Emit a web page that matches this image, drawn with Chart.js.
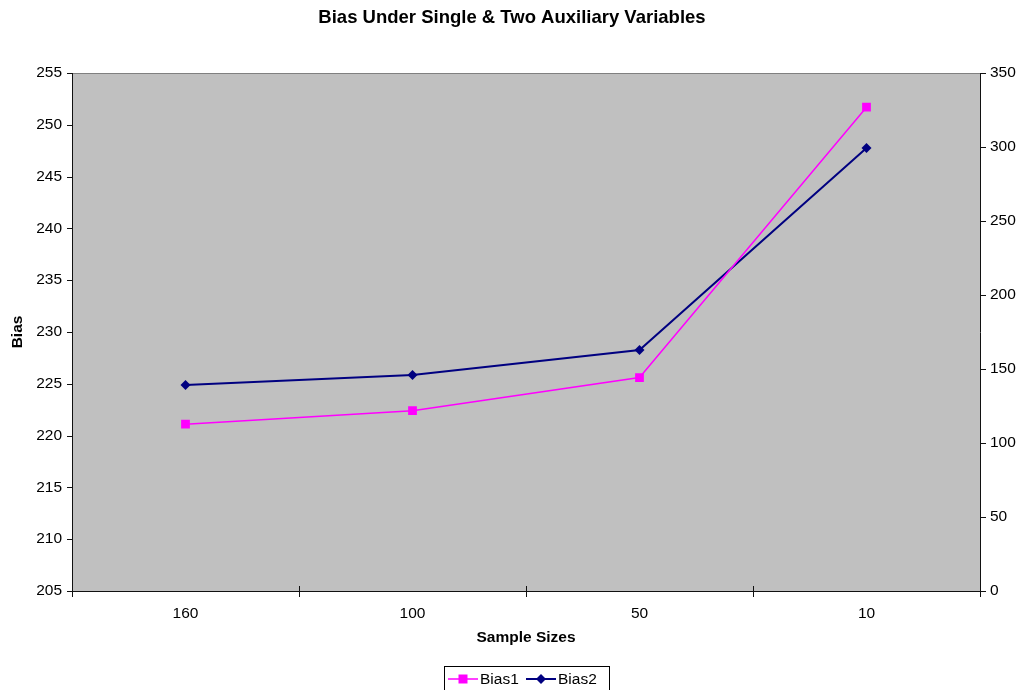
<!DOCTYPE html>
<html lang="en">
<head>
    <meta charset="UTF-8">
    <title>Bias Under Single & Two Auxiliary Variables</title>
    <script src="https://cdn.jsdelivr.net/npm/chart.js@4.4.1/dist/chart.umd.min.js"></script>
    <style>
        body { margin: 0; background: #fff; }
        #wrap { width: 1022px; height: 690px; }
    </style>
</head>
<body>
    <div id="wrap"><canvas id="biasChart" width="1022" height="690"></canvas></div>

    <script>
        const sampleSizes = ['160', '100', '50', '10'];
        const bias1 = [221.1, 222.4, 225.6, 251.7];   // left axis
        const bias2 = [139.2, 146.0, 162.8, 299.3];   // right axis
        const leftTicks = [205, 210, 215, 220, 225, 230, 235, 240, 245, 250, 255];
        const rightTicks = [0, 50, 100, 150, 200, 250, 300, 350];

        const FONT = 'Liberation Sans, Arial, sans-serif';

        // gray plot area, frame, tick marks, titles and boxed legend
        const excelLook = {
            id: 'excelLook',
            beforeDatasetsDraw(chart) {
                const { ctx, chartArea: a } = chart;
                ctx.save();
                ctx.fillStyle = '#c0c0c0';
                ctx.fillRect(a.left, a.top, a.right - a.left, a.bottom - a.top);
                ctx.strokeStyle = '#808080';
                ctx.lineWidth = 1;
                ctx.beginPath();
                ctx.moveTo(a.left, a.top + 0.5);
                ctx.lineTo(a.right, a.top + 0.5);
                ctx.stroke();

                ctx.strokeStyle = '#111';
                ctx.lineWidth = 1;
                ctx.beginPath();
                ctx.moveTo(a.left + 0.5, a.top);
                ctx.lineTo(a.left + 0.5, a.bottom + 1);
                ctx.moveTo(a.left, a.bottom + 0.5);
                ctx.lineTo(a.right + 1, a.bottom + 0.5);
                ctx.moveTo(a.right + 0.5, a.top);
                ctx.lineTo(a.right + 0.5, a.bottom + 1);

                const yl = chart.scales.y;
                leftTicks.forEach(v => {
                    const p = Math.round(yl.getPixelForValue(v)) + 0.5;
                    ctx.moveTo(a.left - 5, p);
                    ctx.lineTo(a.left + 1, p);
                });
                const yr = chart.scales.y2;
                rightTicks.forEach(v => {
                    const p = Math.round(yr.getPixelForValue(v)) + 0.5;
                    ctx.moveTo(a.right, p);
                    ctx.lineTo(a.right + 6, p);
                });
                const step = (a.right - a.left) / sampleSizes.length;
                for (let i = 0; i <= sampleSizes.length; i++) {
                    const p = Math.round(a.left + i * step) + 0.5;
                    ctx.moveTo(p, a.bottom - 5);
                    ctx.lineTo(p, a.bottom + 6);
                }
                ctx.stroke();
                ctx.restore();
            },
            afterDraw(chart) {
                const { ctx, chartArea: a } = chart;
                ctx.save();
                ctx.fillStyle = '#000';
                ctx.textAlign = 'center';
                ctx.textBaseline = 'middle';
                ctx.font = 'bold 18.5px ' + FONT;
                ctx.fillText('Bias Under Single & Two Auxiliary Variables', 512, 18);

                ctx.font = 'bold 15.5px ' + FONT;
                ctx.fillText('Sample Sizes', (a.left + a.right) / 2, 638);

                ctx.save();
                ctx.translate(18, (a.top + a.bottom) / 2);
                ctx.rotate(-Math.PI / 2);
                ctx.fillText('Bias', 0, 0);
                ctx.restore();

                // legend
                const bx = 444, by = 666, bw = 165, bh = 25;
                ctx.strokeStyle = '#000';
                ctx.lineWidth = 1;
                ctx.strokeRect(bx + 0.5, by + 0.5, bw, bh);
                ctx.font = '15.5px ' + FONT;
                ctx.textAlign = 'left';
                const cy = by + 13;
                chart.data.datasets.forEach((ds, i) => {
                    const x0 = bx + 4 + i * 78;
                    ctx.strokeStyle = ds.borderColor;
                    ctx.lineWidth = ds.borderWidth;
                    ctx.beginPath();
                    ctx.moveTo(x0, cy);
                    ctx.lineTo(x0 + 30, cy);
                    ctx.stroke();
                    ctx.fillStyle = ds.borderColor;
                    const mx = x0 + 15;
                    ctx.beginPath();
                    if (ds.pointStyle === 'rect') {
                        ctx.rect(mx - 4.5, cy - 4.5, 9, 9);
                    } else {
                        ctx.moveTo(mx, cy - 5);
                        ctx.lineTo(mx + 5, cy);
                        ctx.lineTo(mx, cy + 5);
                        ctx.lineTo(mx - 5, cy);
                        ctx.closePath();
                    }
                    ctx.fill();
                    ctx.fillStyle = '#000';
                    ctx.fillText(ds.label, x0 + 32, cy + 1);
                });
                ctx.restore();
            }
        };

        const ctx = document.getElementById('biasChart').getContext('2d');
        new Chart(ctx, {
            type: 'line',
            data: {
                labels: sampleSizes,
                datasets: [
                    {
                        label: 'Bias1',
                        data: bias1,
                        yAxisID: 'y',
                        borderColor: '#ff00ff',
                        backgroundColor: '#ff00ff',
                        borderWidth: 1.5,
                        pointStyle: 'rect',
                        pointRadius: 6.2,
                        pointBorderWidth: 0,
                        tension: 0
                    },
                    {
                        label: 'Bias2',
                        data: bias2,
                        yAxisID: 'y2',
                        borderColor: '#000080',
                        backgroundColor: '#000080',
                        borderWidth: 2,
                        pointStyle: 'rectRot',
                        pointRadius: 5,
                        pointBorderWidth: 0,
                        tension: 0
                    }
                ]
            },
            options: {
                responsive: false,
                animation: false,
                layout: { padding: { top: 73, left: 0, right: 0, bottom: 0 } },
                plugins: {
                    legend: { display: false },
                    title: { display: false },
                    tooltip: { enabled: false }
                },
                scales: {
                    x: {
                        type: 'category',
                        offset: true,
                        grid: { display: false, offset: true },
                        border: { display: false },
                        ticks: {
                            color: '#000',
                            font: { family: FONT, size: 15.5 },
                            padding: 5,
                            maxRotation: 0
                        },
                        afterFit(s) { s.height = 99; }
                    },
                    y: {
                        position: 'left',
                        min: 205,
                        max: 255,
                        grid: { display: false },
                        border: { display: false },
                        afterBuildTicks(s) { s.ticks = leftTicks.map(v => ({ value: v })); },
                        ticks: {
                            color: '#000',
                            font: { family: FONT, size: 15.5 },
                            padding: 2
                        },
                        afterFit(s) { s.width = 72; }
                    },
                    y2: {
                        position: 'right',
                        min: 0,
                        max: 350,
                        grid: { display: false },
                        border: { display: false },
                        afterBuildTicks(s) { s.ticks = rightTicks.map(v => ({ value: v })); },
                        ticks: {
                            color: '#000',
                            font: { family: FONT, size: 15.5 },
                            padding: 2
                        },
                        afterFit(s) { s.width = 42; }
                    }
                }
            },
            plugins: [excelLook]
        });
    </script>
</body>
</html>
